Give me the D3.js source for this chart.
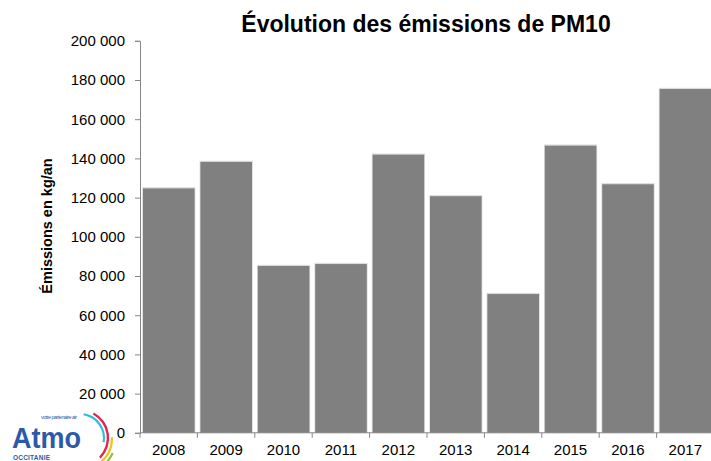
<!DOCTYPE html>
<html>
<head>
<meta charset="utf-8">
<script src="https://cdn.jsdelivr.net/npm/d3@7"></script>
<style>
  body { margin: 0; background: #fff; }
  svg { display: block; font-family: "Liberation Sans", Arial, sans-serif; }
</style>
</head>
<body>
<svg id="chart" width="711" height="461"></svg>
<script>
// data
var years = ["2008", "2009", "2010", "2011", "2012", "2013", "2014", "2015", "2016", "2017"];
var emissions = [124700, 138200, 85100, 86100, 141900, 120700, 70800, 146500, 126800, 175400];
var yTicks = [0, 20000, 40000, 60000, 80000, 100000, 120000, 140000, 160000, 180000, 200000];

var svg = d3.select("#chart");

var x0 = 140, step = 57.4;
var x = d3.scaleBand().domain(years).range([x0, x0 + step * years.length]).paddingInner(0).paddingOuter(0);
var y = d3.scaleLinear().domain([0, 200000]).range([432.8, 40.8]);

var fmt = function(v) { return v === 0 ? "0" : d3.format(",")(v).replace(/,/g, " "); };

// bars
var bars = svg.append("g").attr("class", "bars");
bars.selectAll("rect.shadow").data(emissions).enter().append("rect")
  .attr("class", "shadow")
  .attr("x", function(d, i) { return x(years[i]) + 2.2; })
  .attr("y", function(d) { return y(d) - 1.2; })
  .attr("width", x.bandwidth() - 4.2)
  .attr("height", function(d) { return y(0) - y(d) + 1.2; })
  .attr("fill", "#dcdcdc");
bars.selectAll("rect.bar").data(emissions).enter().append("rect")
  .attr("class", "bar")
  .attr("x", function(d, i) { return x(years[i]) + 3; })
  .attr("y", function(d) { return y(d); })
  .attr("width", x.bandwidth() - 5.8)
  .attr("height", function(d) { return y(0) - y(d); })
  .attr("fill", "#808080");

// y axis
var yAxis = svg.append("g").attr("transform", "translate(" + x0 + ",0)")
  .call(d3.axisLeft(y).tickValues(yTicks).tickFormat(fmt).tickSize(5).tickPadding(10));
yAxis.select(".domain").attr("stroke", "#868686");
yAxis.selectAll(".tick line").attr("stroke", "#868686");
yAxis.selectAll(".tick text").attr("font-size", 15).attr("fill", "#000")
  .attr("font-family", "Liberation Sans, Arial, sans-serif");

// x axis with ticks between categories
var xAxisG = svg.append("g").attr("transform", "translate(0," + y(0) + ")");
xAxisG.append("line").attr("x1", x0).attr("x2", 711).attr("y1", 0).attr("y2", 0).attr("stroke", "#868686");
xAxisG.selectAll("line.tk").data(years).enter().append("line")
  .attr("class", "tk")
  .attr("x1", function(d) { return x(d); }).attr("x2", function(d) { return x(d); })
  .attr("y1", 0).attr("y2", 5).attr("stroke", "#868686");
xAxisG.selectAll("text").data(years).enter().append("text")
  .attr("x", function(d) { return x(d) + x.bandwidth() / 2; })
  .attr("y", 22)
  .attr("text-anchor", "middle")
  .attr("font-size", 15)
  .text(function(d) { return d; });

// title
svg.append("text").attr("x", 426).attr("y", 32).attr("text-anchor", "middle")
  .attr("font-size", 23).attr("font-weight", "bold").text("Évolution des émissions de PM10");

// y label
svg.append("text").attr("transform", "translate(52,226) rotate(-90)")
  .attr("text-anchor", "middle").attr("font-size", 14.5).attr("font-weight", "bold")
  .text("Émissions  en kg/an");

// logo
var logo = svg.append("g").attr("class", "logo");
var arcs = [
  {r: 24, a0: 0.15, a1: 1.75, c: "#33b9e2", w: 2.2},
  {r: 28, a0: 0.5, a1: 2.35, c: "#e2264b", w: 2.4},
  {r: 32, a0: 1.55, a1: 2.5, c: "#f2c21b", w: 2.2},
  {r: 36, a0: 2.0, a1: 2.6, c: "#8cc43f", w: 2.2}
];
logo.selectAll("path").data(arcs).enter().append("path")
  .attr("transform", "translate(80,438)")
  .attr("d", function(d) { return d3.arc()({innerRadius: d.r - d.w / 2, outerRadius: d.r + d.w / 2, startAngle: d.a0, endAngle: d.a1}); })
  .attr("fill", function(d) { return d.c; });
logo.append("text").attr("x", 12).attr("y", 448).attr("font-size", 30).attr("font-weight", "bold")
  .attr("fill", "#2b5aa8").attr("textLength", 69).attr("lengthAdjust", "spacingAndGlyphs").text("Atmo");
logo.append("text").attr("x", 41).attr("y", 419).attr("font-size", 5.5)
  .attr("fill", "#2b5aa8").attr("textLength", 36).text("votre partenaire air");
logo.append("text").attr("x", 13).attr("y", 460).attr("font-size", 6.5).attr("font-weight", "bold")
  .attr("fill", "#2b5aa8").attr("textLength", 37).text("OCCITANIE");
</script>
</body>
</html>
